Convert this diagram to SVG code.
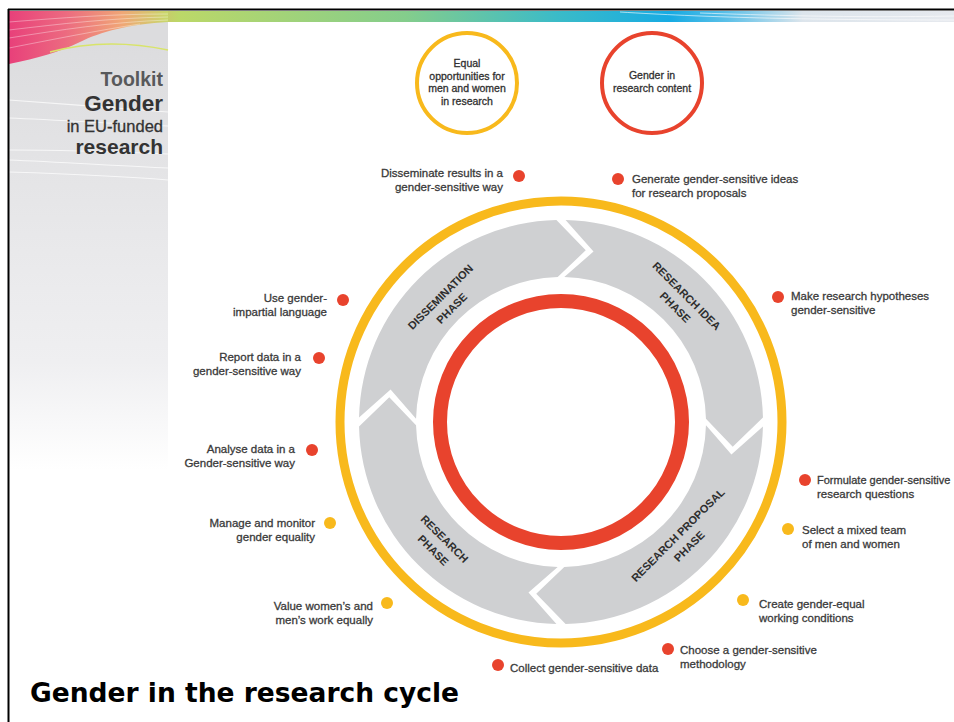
<svg xmlns="http://www.w3.org/2000/svg" width="954" height="722" viewBox="0 0 954 722">
<defs>
<linearGradient id="panelGrad" gradientUnits="userSpaceOnUse" x1="0" y1="40" x2="0" y2="470">
<stop offset="0" stop-color="#dcdcde"/>
<stop offset="0.45" stop-color="#e8e8ea"/>
<stop offset="0.75" stop-color="#efeff1"/>
<stop offset="1" stop-color="#ffffff"/>
</linearGradient>
<linearGradient id="bandGrad" gradientUnits="userSpaceOnUse" x1="9" y1="0" x2="954" y2="0">
<stop offset="0" stop-color="#e94b7b"/>
<stop offset="0.12" stop-color="#eea070"/>
<stop offset="0.18" stop-color="#bcd868"/>
<stop offset="0.42" stop-color="#84cd8c"/>
<stop offset="0.58" stop-color="#3bbbc8"/>
<stop offset="0.70" stop-color="#17abe3"/>
<stop offset="0.76" stop-color="#5cc0e8"/>
<stop offset="0.84" stop-color="#dde5ec"/>
<stop offset="1" stop-color="#e6e9ee"/>
</linearGradient>
<linearGradient id="swooshGrad" gradientUnits="userSpaceOnUse" x1="9" y1="0" x2="170" y2="0">
<stop offset="0" stop-color="#e8407a"/>
<stop offset="0.35" stop-color="#ec6a80"/>
<stop offset="0.7" stop-color="#f0a676"/>
<stop offset="1" stop-color="#c6da6a"/>
</linearGradient>
<style>
.lbl{font-family:"Liberation Sans",Arial,sans-serif;font-size:11.5px;fill:#3a3a3a;stroke:#3a3a3a;stroke-width:0.3px}
.end{text-anchor:end}
.circ{font-family:"Liberation Sans",Arial,sans-serif;font-size:10.5px;fill:#303030;stroke:#303030;stroke-width:0.3px;text-anchor:middle}
.phase{font-family:"Liberation Sans",Arial,sans-serif;font-size:11px;font-weight:bold;fill:#2e2e2e;text-anchor:middle}
.seg{fill:#cfd0d2}
.red{fill:#e8432d}
.yel{fill:#f8b91c}
</style>
</defs>

<rect x="0" y="0" width="954" height="722" fill="#ffffff"/>

<g id="background">
<rect x="9" y="11" width="159" height="711" fill="url(#panelGrad)"/>
<g fill="none" stroke="#ffffff" stroke-opacity="0.7" stroke-width="1.2">
<path d="M9,100 C60,104 120,108 168,112"/>
<path d="M9,118 C60,120 120,124 168,126"/>
<path d="M9,160 C60,162 120,166 168,168"/>
<path d="M9,172 C70,174 120,176 168,180"/>
<path d="M9,150 C60,150 120,152 168,154"/>
</g>
<rect x="168" y="11" width="786" height="11" fill="url(#bandGrad)"/>
<path d="M9,11 H168 V22 C130,24 100,32 80,42 C60,52 38,58 9,64 Z" fill="url(#swooshGrad)"/>
<g fill="none" stroke="#ffffff" stroke-opacity="0.45" stroke-width="0.8">
<path d="M9,22 C60,18 110,14 168,14"/>
<path d="M9,30 C60,24 110,18 168,17"/>
<path d="M9,38 C60,30 110,22 168,20"/>
<path d="M9,48 C50,40 100,30 140,24"/>
</g>
<path d="M50,52 C80,44 120,40 168,50" fill="none" stroke="#d8e46a" stroke-width="1.5"/>
<g fill="none" stroke="#ffffff" stroke-opacity="0.6" stroke-width="1">
<path d="M700,13 C760,15 850,18 954,16"/>
<path d="M620,12 C700,17 800,20 954,20"/>
</g>
<line x1="8" y1="9.5" x2="954" y2="9.5" stroke="#000" stroke-width="2"/>
<line x1="8.5" y1="9" x2="8.5" y2="722" stroke="#000" stroke-width="2"/>
</g>

<g id="logo" font-family="'Liberation Sans',Arial,sans-serif" text-anchor="end">
<text x="163" y="86" font-size="19.5" font-weight="bold" fill="#58595b">Toolkit</text>
<text x="163" y="111" font-size="22.5" font-weight="bold" fill="#333">Gender</text>
<text x="163" y="132" font-size="16.5" fill="#333" stroke="#333" stroke-width="0.3">in EU-funded</text>
<text x="163" y="154" font-size="21" font-weight="bold" fill="#333">research</text>
</g>

<g id="title">
<text x="30" y="702" font-family="'DejaVu Sans',Verdana,sans-serif" font-size="26.5" font-weight="bold" fill="#000">Gender in the research cycle</text>
</g>

<g id="equal-opportunities">
<circle cx="467" cy="83" r="50" fill="none" stroke="#f8b91c" stroke-width="4"/>
<text class="circ" x="467" y="67">Equal</text>
<text class="circ" x="467" y="79.5">opportunities for</text>
<text class="circ" x="467" y="92">men and women</text>
<text class="circ" x="467" y="104.5">in research</text>
</g>

<g id="gender-content">
<circle cx="652" cy="83" r="50" fill="none" stroke="#e8432d" stroke-width="4"/>
<text class="circ" x="652" y="79">Gender in</text>
<text class="circ" x="652" y="92">research content</text>
</g>

<g id="outer-ring">
<circle cx="561" cy="422" r="221" fill="none" stroke="#f8b91c" stroke-width="9"/>
</g>
<g id="inner-ring">
<circle cx="561" cy="422" r="121" fill="none" stroke="#e8432d" stroke-width="14"/>
</g>

<g id="research-idea-phase">
<path class="seg" d="M565.58,220.05 A202,202 0 0 1 762.95,417.42 L732.73,446.75 L705.96,418.71 A145,145 0 0 0 564.29,277.04 L593.51,251.57 Z"/>
<g transform="translate(681,301.5) rotate(45)">
<text class="phase" x="0" y="-4">RESEARCH IDEA</text>
<text class="phase" x="0" y="12">PHASE</text>
</g>
</g>

<g id="research-proposal-phase">
<path class="seg" d="M762.95,426.58 A202,202 0 0 1 565.58,623.95 L536.25,593.73 L564.29,566.96 A145,145 0 0 0 705.96,425.29 L731.43,454.51 Z"/>
<g transform="translate(683.5,540.5) rotate(-45)">
<text class="phase" x="0" y="-4">RESEARCH PROPOSAL</text>
<text class="phase" x="0" y="12">PHASE</text>
</g>
</g>

<g id="research-phase">
<path class="seg" d="M556.42,623.95 A202,202 0 0 1 359.05,426.58 L389.27,397.25 L416.04,425.29 A145,145 0 0 0 557.71,566.96 L528.49,592.43 Z"/>
<g transform="translate(439,544.5) rotate(45)">
<text class="phase" x="0" y="-4">RESEARCH</text>
<text class="phase" x="0" y="12">PHASE</text>
</g>
</g>

<g id="dissemination-phase">
<path class="seg" d="M359.05,417.42 A202,202 0 0 1 556.42,220.05 L585.75,250.27 L557.71,277.04 A145,145 0 0 0 416.04,418.71 L390.57,389.49 Z"/>
<g transform="translate(446,302.5) rotate(-45)">
<text class="phase" x="0" y="-4">DISSEMINATION</text>
<text class="phase" x="0" y="12">PHASE</text>
</g>
</g>

<g id="disseminate">
<circle class="red" cx="519" cy="176" r="6"/>
<text class="lbl end" x="503" y="177">Disseminate results in a</text>
<text class="lbl end" x="503" y="191">gender-sensitive way</text>
</g>
<g id="generate">
<circle class="red" cx="618" cy="179" r="6"/>
<text class="lbl" x="632" y="183">Generate gender-sensitive ideas</text>
<text class="lbl" x="632" y="197">for research proposals</text>
</g>
<g id="hypotheses">
<circle class="red" cx="778" cy="297" r="6"/>
<text class="lbl" x="791" y="300">Make research hypotheses</text>
<text class="lbl" x="791" y="314">gender-sensitive</text>
</g>
<g id="formulate">
<circle class="red" cx="805" cy="480" r="6"/>
<text class="lbl" x="817" y="484" style="font-size:11px">Formulate gender-sensitive</text>
<text class="lbl" x="817" y="498">research questions</text>
</g>
<g id="mixed-team">
<circle class="yel" cx="788" cy="529" r="6"/>
<text class="lbl" x="802" y="534">Select a mixed team</text>
<text class="lbl" x="802" y="548">of men and women</text>
</g>
<g id="working-conditions">
<circle class="yel" cx="743" cy="600" r="6"/>
<text class="lbl" x="759" y="608">Create gender-equal</text>
<text class="lbl" x="759" y="622">working conditions</text>
</g>
<g id="methodology">
<circle class="red" cx="668" cy="649" r="6"/>
<text class="lbl" x="680" y="654">Choose a gender-sensitive</text>
<text class="lbl" x="680" y="668">methodology</text>
</g>
<g id="collect">
<circle class="red" cx="498" cy="665" r="6"/>
<text class="lbl" x="510" y="672">Collect gender-sensitive data</text>
</g>
<g id="value-work">
<circle class="yel" cx="387" cy="603" r="6"/>
<text class="lbl end" x="373" y="610">Value women’s and</text>
<text class="lbl end" x="373" y="624">men’s work equally</text>
</g>
<g id="manage">
<circle class="yel" cx="330" cy="523" r="6"/>
<text class="lbl end" x="315" y="527">Manage and monitor</text>
<text class="lbl end" x="315" y="541">gender equality</text>
</g>
<g id="analyse">
<circle class="red" cx="312" cy="450" r="6"/>
<text class="lbl end" x="295" y="453">Analyse data in a</text>
<text class="lbl end" x="295" y="467">Gender-sensitive way</text>
</g>
<g id="report">
<circle class="red" cx="319" cy="358" r="6"/>
<text class="lbl end" x="301" y="361">Report data in a</text>
<text class="lbl end" x="301" y="375">gender-sensitive way</text>
</g>
<g id="impartial">
<circle class="red" cx="343" cy="300" r="6"/>
<text class="lbl end" x="327" y="302">Use gender-</text>
<text class="lbl end" x="327" y="316">impartial language</text>
</g>

<g id="connectors"></g>
</svg>
